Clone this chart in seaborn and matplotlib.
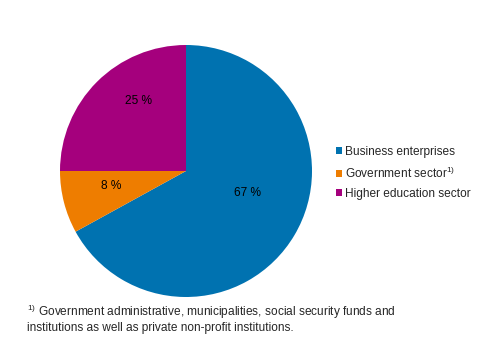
import matplotlib
matplotlib.use("Agg")
import matplotlib.pyplot as plt
import seaborn as sns
from matplotlib.patches import Patch

categories = ["Business enterprises", "Government sector", "Higher education sector"]
values = [67, 8, 25]
legend_labels = ["Business enterprises", r"Government sector$^{\mathregular{1)}}$", "Higher education sector"]
footnote = (r"$^{\mathregular{1)}}$ Government administrative, municipalities, social security funds and" "\n"
            "institutions as well as private non-profit institutions.")
# label placement (in pie-radius units), style only
label_pos = [(0.49, -0.175), (-0.59, -0.12), (-0.38, 0.555)]

sns.set_theme(style="white")
plt.rcParams["font.family"] = ["Liberation Sans", "DejaVu Sans"]
plt.rcParams["mathtext.fontset"] = "custom"
plt.rcParams["mathtext.rm"] = "Liberation Sans"

colors = sns.color_palette(["#0072B0", "#EE7D00", "#A5007D"])
FS = 8.6

W, H = 487, 346
fig = plt.figure(figsize=(W / 100, H / 100), dpi=100)
cx, cy, R = 186, 171, 126
ax = fig.add_axes([(cx - R) / W, (H - cy - R) / H, 2 * R / W, 2 * R / H])

wedges, texts, autotexts = ax.pie(
    values, colors=colors, startangle=90, counterclock=False,
    autopct=lambda p: f"{p:.0f} %", pctdistance=0.6,
    wedgeprops=dict(linewidth=0), textprops=dict(fontsize=FS, color="black"))
for t, pos in zip(autotexts, label_pos):
    t.set_position(pos)
ax.set_xlim(-1, 1)
ax.set_ylim(-1, 1)
ax.set_aspect("equal")

handles = [Patch(facecolor=c, edgecolor="none") for c in colors]
fig.legend(handles, legend_labels, loc="center left", bbox_to_anchor=(331 / W, 1 - 173 / H),
           frameon=False, fontsize=FS, handlelength=0.55, handleheight=0.55,
           handletextpad=0.25, labelspacing=0.62, borderaxespad=0)

fig.text(27 / W, 1 - 318.5 / H, footnote, fontsize=FS, va="center", ha="left", linespacing=1.1)

fig.savefig("out.png", dpi=100)
